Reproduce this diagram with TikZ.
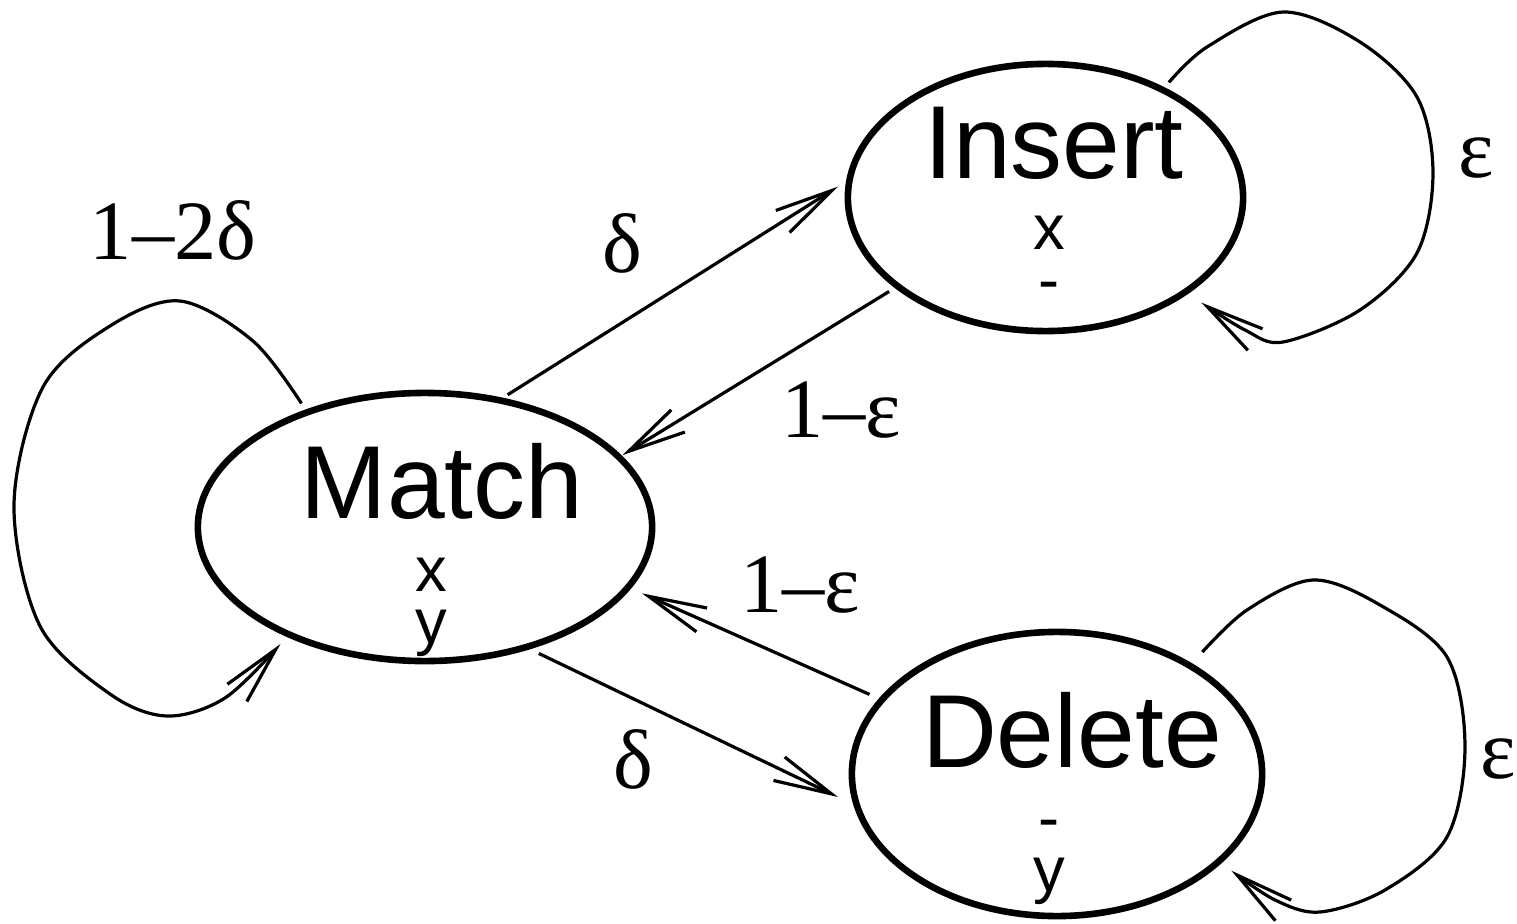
\documentclass[tikz,border=0pt]{standalone}
\usepackage{fontspec}
\setmainfont{Liberation Serif}
\newfontfamily\statefont{Liberation Sans}
\usetikzlibrary{arrows.meta,calc,shapes.geometric}

\begin{document}
\begin{tikzpicture}[x=0.01cm, y=-0.01cm,
  state/.style={ellipse, draw, line width=0.066cm, inner sep=0pt, outer sep=0pt},
  statename/.style={font=\statefont\fontsize{29.5}{29.5}\selectfont, anchor=base, inner sep=0pt},
  % two stacked symbols; the base anchor sits on the lower line
  emit/.style={font=\statefont\fontsize{18}{14.7}\selectfont, align=center, anchor=base, inner sep=0pt},
  prob/.style={font=\fontsize{24}{24}\selectfont, anchor=base, inner sep=0pt},
  conn/.style={line width=0.032cm, -{Straight Barb[length=0.58cm, width=0.26cm]}},
]
% canvas
\fill[white] (0,0) rectangle (1517,924);
\useasboundingbox (0,0) rectangle (1517,924);

% states of the pair HMM
\node[state, minimum width=4.54cm, minimum height=2.68cm] (match)  at (425,527)  {};
\node[state, minimum width=3.95cm, minimum height=2.67cm] (insert) at (1045.5,197.5) {};
\node[state, minimum width=4.10cm, minimum height=2.84cm] (delete) at (1057,774) {};

% state names and the symbols each state emits (upper / lower sequence)
\node[statename] (matchname)  at (442,518)  {Match};
\node[emit]      (matchemit)  at (431,643)  {x\\y};
\node[statename] (insertname) at (1054,178) {Insert};
\node[emit]      (insertemit) at (1049,301) {x\\-};
\node[statename] (deletename) at (1072,767) {Delete};
\node[emit]      (deleteemit) at (1049,891) {-\\y};

% transitions between states
\draw[conn] ($(match.center)!1.051!(match.58)$)   -- ($(insert.center)!1.053!(insert.177)$);
\draw[conn] ($(insert.center)!1.059!(insert.211)$) -- ($(match.center)!1.021!(match.20)$);
\draw[conn] ($(delete.center)!1.072!(delete.157)$) -- ($(match.center)!1.076!(match.343)$);
\draw[conn] ($(match.center)!1.068!(match.312)$)  -- ($(delete.center)!1.080!(delete.186)$);

% self loops
\coordinate (mA) at ($(match.center)!1.07!(match.135)$);
\coordinate (mB) at ($(match.center)!1.08!(match.219)$);
\coordinate (iA) at ($(insert.center)!1.064!(insert.43)$);
\coordinate (iB) at ($(insert.center)!1.114!(insert.326)$);
\coordinate (dA) at ($(delete.center)!1.113!(delete.40)$);
\coordinate (dB) at ($(delete.center)!1.089!(delete.331)$);

\draw[conn] plot[smooth, tension=0.55] coordinates {(mA) (253,341) (180,301) (110,326) (43,387) (14,505) (40,626) (110,694) (167,716) (225,698) (mB)};
\draw[conn] plot[smooth, tension=0.55] coordinates {(iA) (1207,47) (1283,12) (1360,42) (1417,97) (1433,173) (1417,253) (1360,310) (1283,342) (1245,330) (iB)};
\draw[conn] plot[smooth, tension=0.55] coordinates {(dA) (1247,610) (1313,580) (1380,605) (1447,657) (1465,747) (1447,837) (1385,890) (1320,912) (1275,900) (dB)};

% transition probabilities
\node[prob] (pmm) at (173,259)  {1–2δ};
\node[prob] (pmi) at (622,272)  {δ};
\node[prob] (pim) at (841,437)  {1–ε};
\node[prob] (pdm) at (800,612)  {1–ε};
\node[prob] (pmd) at (633,788)  {δ};
\node[prob] (pii) at (1476,177) {ε};
\node[prob] (pdd) at (1498,778) {ε};
\end{tikzpicture}
\end{document}
